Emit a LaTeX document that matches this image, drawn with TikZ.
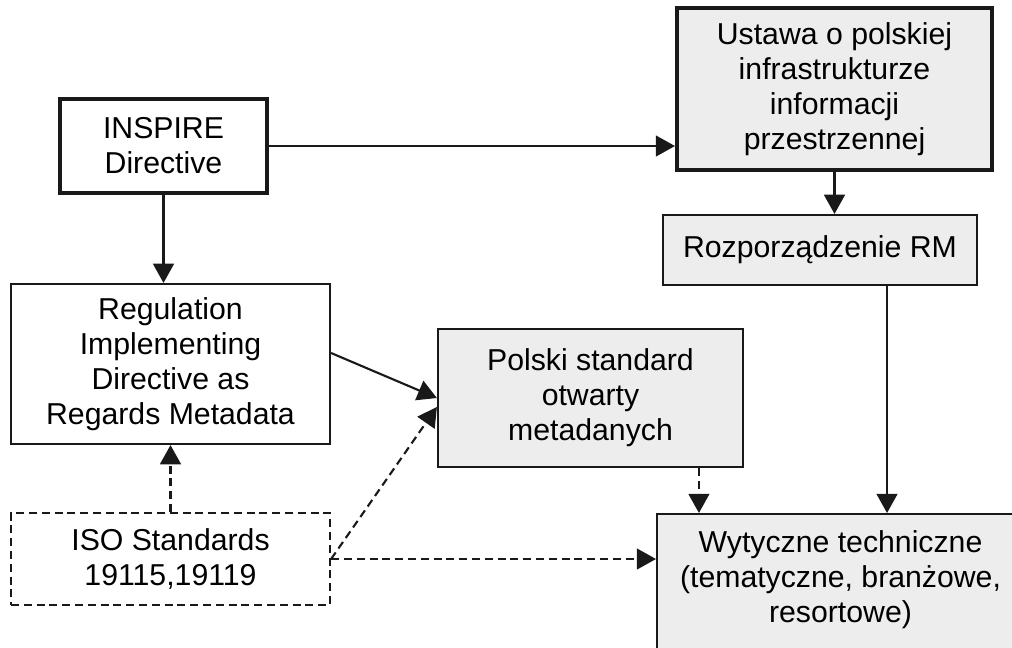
\documentclass[tikz,border=0pt]{standalone}
\usepackage{fontspec}
\setmainfont{Liberation Sans}
\usetikzlibrary{arrows.meta}
\begin{document}
\begin{tikzpicture}[x=0.025cm, y=-0.025cm]
        % Define styles
        \tikzset{
            txt/.style={align=center, inner sep=0pt, font=\fontsize{21.5pt}{25pt}\selectfont},
            box/.style={txt, draw=black!90, line width=1.5pt},
            thickbox/.style={box, line width=2.8pt},
            graybox/.style={box, fill=black!7},
            isobox/.style={box, dash pattern=on 0.2cm off 0.12cm},
            link/.style={-{Triangle[length=0.48cm, width=0.52cm]}, line width=1.5pt, draw=black!90},
            dashlink/.style={link, dash pattern=on 0.2cm off 0.12cm}
        }
        % Page frame
        \useasboundingbox (0,0) rectangle (1012,647);
        \clip (0,0) rectangle (1012,647);
        % European side
        \node[thickbox, minimum width=5.175cm, minimum height=2.35cm] (inspire) at (163.5,146) {INSPIRE\\Directive};
        \node[box, minimum width=7.975cm, minimum height=4cm] (reg) at (170.5,364) {Regulation\\Implementing\\Directive as\\Regards Metadata};
        \node[isobox, minimum width=7.975cm, minimum height=2.3cm] (iso) at (170.5,559) {ISO Standards\\19115,19119};
        % Polish side
        \node[thickbox, fill=black!7, minimum width=7.875cm, minimum height=4.05cm] (ustawa) at (834.5,89) {Ustawa o polskiej\\infrastrukturze\\informacji\\przestrzennej};
        \node[graybox, minimum width=7.85cm, minimum height=1.75cm] (rozp) at (820,250) {Rozporządzenie RM};
        \node[graybox, minimum width=7.625cm, minimum height=3.45cm] (polski) at (590.5,398) {Polski standard\\otwarty\\metadanych};
        % Guidelines box runs off the page
        \node[graybox, anchor=north west, minimum width=9.225cm, minimum height=4.25cm] (wyt) at (656,513) {};
        \node[txt, anchor=north] (wyttext) at (840.5,530) {Wytyczne techniczne\\(tematyczne, branżowe,\\resortowe)};
        % Solid links
        \draw[link] (inspire.east) -- (inspire.east -| ustawa.west);
        \draw[link] (ustawa.south) -- (ustawa.south |- rozp.north);
        \draw[link] (inspire.south) -- (inspire.south |- reg.north);
        \draw[link] ([yshift=0.275cm]reg.east) -- (polski.west);
        \draw[link] ([xshift=1.675cm]rozp.south) -- ([xshift=1.675cm]rozp.south |- wyt.north);
        % Dashed links
        \draw[dashlink] (iso.north) -- (reg.south);
        \draw[dashlink] (iso.east) -- ([yshift=-0.225cm]polski.west);
        \draw[dashlink] (iso.east) -- (iso.east -| wyt.west);
        \draw[dashlink] ([xshift=2.71cm]polski.south) -- ([xshift=2.71cm]polski.south |- wyt.north);
    \end{tikzpicture}
\end{document}
